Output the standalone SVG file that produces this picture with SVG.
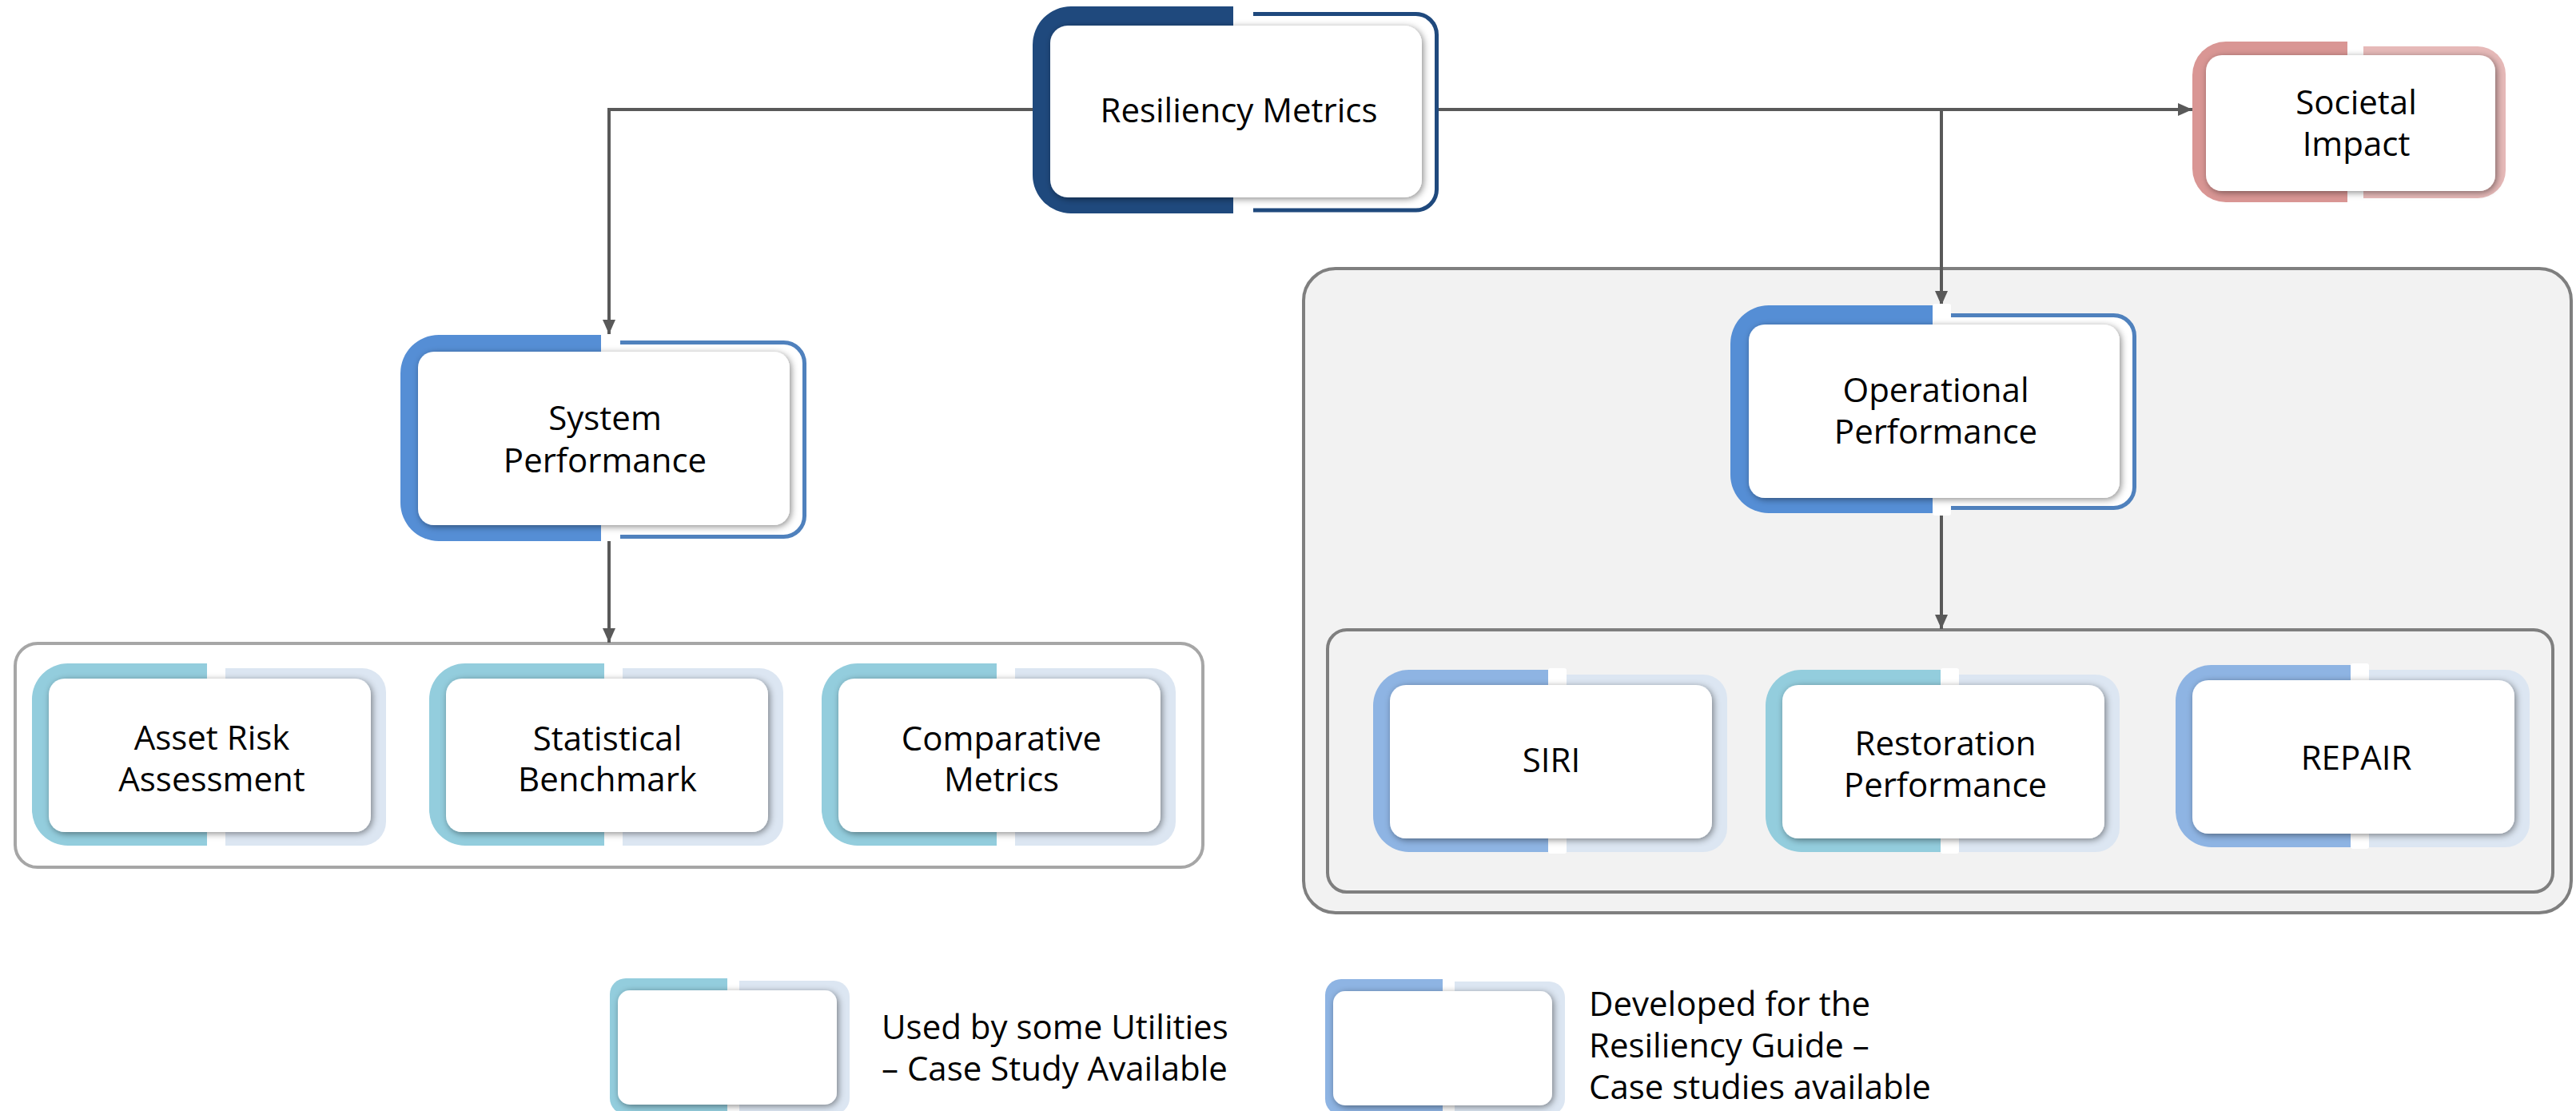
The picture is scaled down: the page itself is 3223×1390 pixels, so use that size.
<svg xmlns="http://www.w3.org/2000/svg" width="3223" height="1390" viewBox="0 0 3223 1390">
<defs>
<style>
.t{font-family:"Open Sans","Noto Sans",sans-serif;font-size:42px;fill:#000;text-anchor:middle}
.lt{font-family:"Open Sans","Noto Sans",sans-serif;font-size:42px;fill:#000}
.in{fill:#fff;filter:url(#sh)}
.con{fill:none;stroke:#595959;stroke-width:4;marker-end:url(#ah)}
.teal{fill:#93CDDD}
.lblue{fill:#8EB4E3}
.pale{fill:#DCE6F2}
.gap{fill:#fff}
.ol{fill:#fff;stroke-width:5}
</style>
<filter id="sh" x="-10%" y="-15%" width="120%" height="135%">
<feDropShadow dx="2" dy="2" stdDeviation="4" flood-color="#000" flood-opacity="0.45"/>
</filter>
<marker id="ah" markerUnits="userSpaceOnUse" markerWidth="18" markerHeight="16" refX="18" refY="8" orient="auto">
<path d="M0,0 L18,8 L0,16 Z" fill="#595959"/>
</marker>
<g id="sm">
<path class="pale" d="M242,6 H413 A30,30 0 0 1 443,36 V198 A30,30 0 0 1 413,228 H242 Z"/>
<rect class="gap" x="219" y="-2" width="23" height="232" rx="3"/>
<rect class="in" x="21" y="19" width="403" height="192" rx="20"/>
</g>
<path id="smL" d="M219,0 H45 A45,45 0 0 0 0,45 V183 A45,45 0 0 0 45,228 H219 Z"/>
<g id="lg">
<path class="pale" d="M162,3 H280 A20,20 0 0 1 300,23 V150 A20,20 0 0 1 280,170 H162 Z"/>
<rect class="in" x="10" y="15" width="274" height="143" rx="15"/>
</g>
<path id="lgL" d="M147,0 H20 A20,20 0 0 0 0,20 V150 A20,20 0 0 0 20,170 H147 Z"/>
</defs>
<rect width="3223" height="1390" fill="#fff"/>

<g id="containers">
<rect x="19" y="805" width="1486" height="280" rx="28" fill="#fff" stroke="#A6A6A6" stroke-width="4"/>
<rect x="1631" y="336" width="1586" height="806" rx="40" fill="#F2F2F2" stroke="#7F7F7F" stroke-width="4"/>
<rect x="1661" y="788" width="1533" height="328" rx="24" fill="#F2F2F2" stroke="#7F7F7F" stroke-width="4"/>
</g>

<g id="connectors">
<path class="con" d="M1292,137 H762 V418"/>
<path class="con" d="M762,677 V804"/>
<path class="con" d="M1800,137 H2743"/>
<path class="con" d="M2429,137 V382"/>
<path class="con" d="M2429,642 V787"/>
</g>

<g id="resiliency-metrics">
<path d="M1543,8 H1340 A48,48 0 0 0 1292,56 V219 A48,48 0 0 0 1340,267 H1543 Z" fill="#1F497D"/>
<path class="ol" stroke="#1F497D" d="M1568,17.5 H1771.5 A26,26 0 0 1 1797.5,43.5 V237 A26,26 0 0 1 1771.5,263 H1568"/>
<rect class="in" x="1314" y="32" width="465" height="215" rx="22"/>
<text class="t" x="1550" y="153">Resiliency Metrics</text>
</g>

<g id="societal-impact">
<path d="M2937,52 H2785 A42,42 0 0 0 2743,94 V211 A42,42 0 0 0 2785,253 H2937 Z" fill="#D99694"/>
<path d="M2957,58 H3100 A35,35 0 0 1 3135,93 V213 A35,35 0 0 1 3100,248 H2957 Z" fill="#E6B9B8"/>
<rect class="in" x="2760" y="69" width="362" height="170" rx="20"/>
<text class="t" x="2948" y="143">Societal</text>
<text class="t" x="2948" y="195">Impact</text>
</g>

<g id="system-performance">
<path d="M752,419 H549 A48,48 0 0 0 501,467 V629 A48,48 0 0 0 549,677 H752 Z" fill="#558ED5"/>
<path class="ol" stroke="#4F81BD" d="M776,428.5 H980.5 A26,26 0 0 1 1006.5,454.5 V645.5 A26,26 0 0 1 980.5,671.5 H776"/>
<rect class="in" x="523" y="440" width="465" height="217" rx="20"/>
<text class="t" x="757" y="538">System</text>
<text class="t" x="757" y="591">Performance</text>
</g>

<g id="operational-performance">
<path d="M2418,382 H2213 A48,48 0 0 0 2165,430 V594 A48,48 0 0 0 2213,642 H2418 Z" fill="#558ED5"/>
<path class="ol" stroke="#4F81BD" d="M2441,394.5 H2644.5 A26,26 0 0 1 2670.5,420.5 V609.5 A26,26 0 0 1 2644.5,635.5 H2441"/>
<rect class="gap" x="2418" y="380" width="23" height="265" rx="3"/>
<rect class="in" x="2188" y="406" width="464" height="217" rx="20"/>
<text class="t" x="2422" y="503">Operational</text>
<text class="t" x="2422" y="555">Performance</text>
</g>

<g id="asset-risk-assessment" transform="translate(40,830)">
<use href="#smL" class="teal"/>
<use href="#sm"/>
<text class="t" x="225" y="108">Asset Risk</text>
<text class="t" x="225" y="160">Assessment</text>
</g>

<g id="statistical-benchmark" transform="translate(537,830)">
<use href="#smL" class="teal"/>
<use href="#sm"/>
<text class="t" x="223" y="109">Statistical</text>
<text class="t" x="223" y="160">Benchmark</text>
</g>

<g id="comparative-metrics" transform="translate(1028,830)">
<use href="#smL" class="teal"/>
<use href="#sm"/>
<text class="t" x="225" y="109">Comparative</text>
<text class="t" x="225" y="160">Metrics</text>
</g>

<g id="siri" transform="translate(1718,838)">
<use href="#smL" class="lblue"/>
<use href="#sm"/>
<text class="t" x="223" y="128">SIRI</text>
</g>

<g id="restoration-performance" transform="translate(2209,838)">
<use href="#smL" class="teal"/>
<use href="#sm"/>
<text class="t" x="225" y="107">Restoration</text>
<text class="t" x="225" y="159">Performance</text>
</g>

<g id="repair" transform="translate(2722,832)">
<use href="#smL" class="lblue"/>
<use href="#sm"/>
<text class="t" x="226" y="131">REPAIR</text>
</g>

<g id="legend-used" transform="translate(763,1224)">
<use href="#lgL" class="teal"/>
<use href="#lg"/>
</g>
<text class="lt" x="1103" y="1300">Used by some Utilities</text>
<text class="lt" x="1103" y="1352">– Case Study Available</text>

<g id="legend-developed" transform="translate(1658,1225)">
<use href="#lgL" class="lblue"/>
<use href="#lg"/>
</g>
<text class="lt" x="1988" y="1271">Developed for the</text>
<text class="lt" x="1988" y="1323">Resiliency Guide –</text>
<text class="lt" x="1988" y="1375">Case studies available</text>
</svg>
